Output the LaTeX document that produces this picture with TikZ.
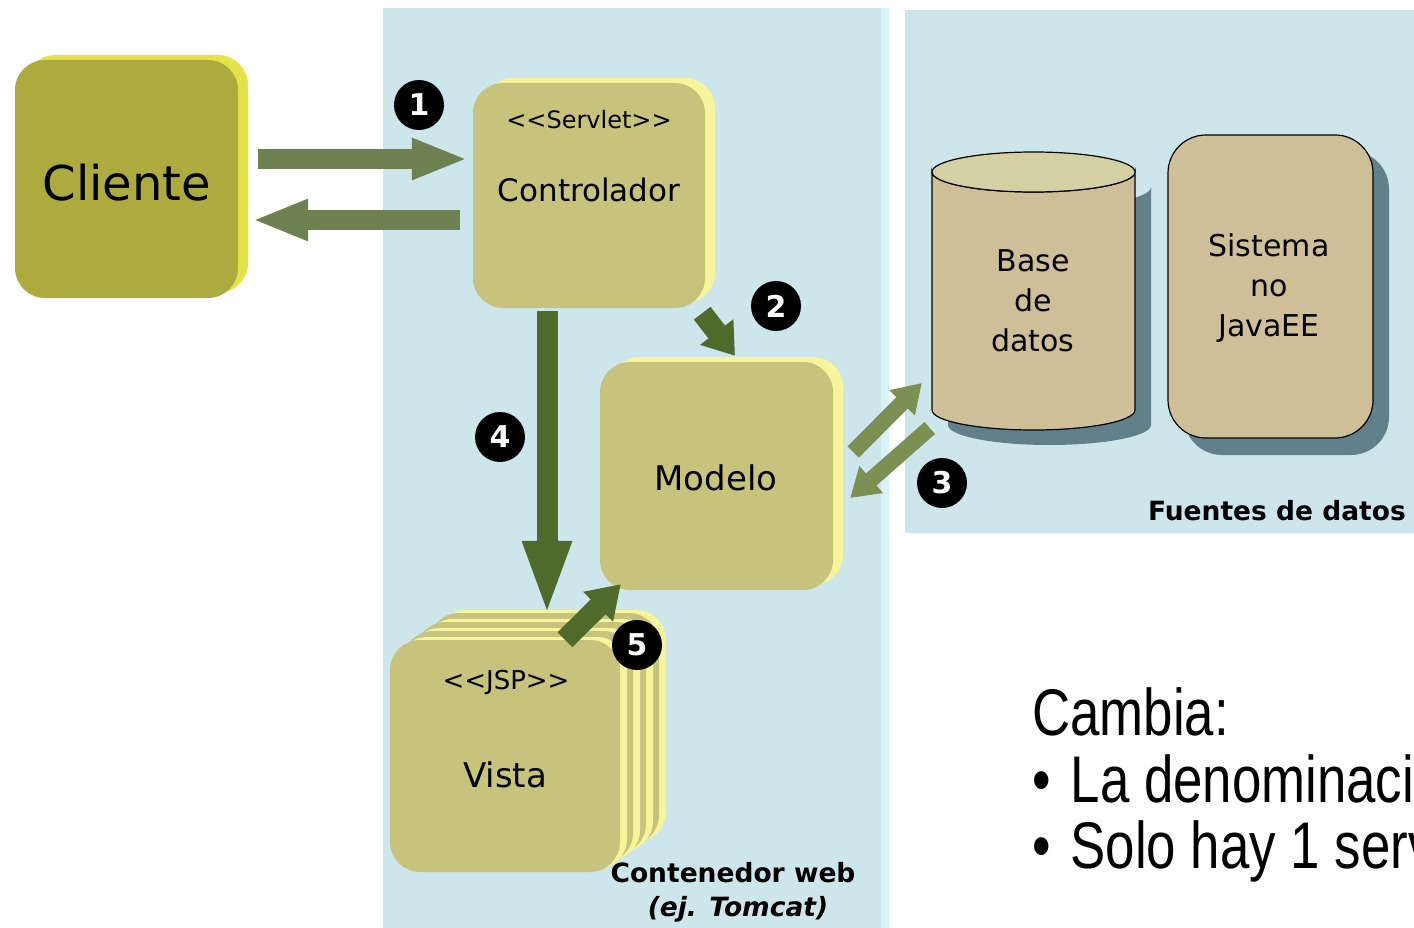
\documentclass[tikz,border=0pt]{standalone}
\usepackage{fontspec}
\setmainfont{DejaVu Sans}
\newfontfamily\narrowfont[FakeStretch=0.8]{Liberation Sans}
\usetikzlibrary{arrows.meta,calc}
\definecolor{panel}{HTML}{CDE6EB}
\definecolor{paneledge}{HTML}{D9F2F7}
\definecolor{olive}{HTML}{ADAB3E}
\definecolor{oliveedge}{HTML}{E4E248}
\definecolor{khaki}{HTML}{C7C37D}
\definecolor{khakiedge}{HTML}{F7F59C}
\definecolor{arrowA}{HTML}{6E8150}
\definecolor{arrowD}{HTML}{4F6A2B}
\definecolor{arrowC}{HTML}{7B9052}
\definecolor{tanc}{HTML}{CEBF98}
\definecolor{tantop}{HTML}{D4D0A4}
\definecolor{shadowc}{HTML}{61808A}
\tikzset{
  box/.style={rounded corners=30pt, inner sep=0pt},
  lbl/.style={inner sep=0pt, text=black},
  num/.style={circle, fill=black, minimum size=50pt, inner sep=0pt, text=white, font=\fontsize{30}{30}\selectfont\bfseries},
  arrowone/.style={draw=arrowA, line width=20pt, -{Triangle[length=56pt,width=38pt]}},
  arrowdark/.style={draw=arrowD, line width=21pt},
  arrowthree/.style={draw=arrowC, line width=16pt, -{Triangle[length=28pt,width=34pt]}},
}
\begin{document}
\begin{tikzpicture}[x=1pt,y=-1pt]
\useasboundingbox (0,0) rectangle (1414,928);
\clip (0,0) rectangle (1414,928);
% panels
\fill[panel] (383,8) rectangle (889,928);
\fill[paneledge] (881,8) rectangle (889,928);
\fill[panel] (905,10) rectangle (1414,533);

% Cliente
\fill[oliveedge, rounded corners=30pt] (25,55) rectangle (248,293);
\node[box, fill=olive, minimum width=223pt, minimum height=238pt] (cliente) at (126.5,179) {};
\node[lbl, font=\fontsize{48}{48}\selectfont] (clientetxt) at (127,183) {Cliente};

% Controlador
\fill[khakiedge, rounded corners=30pt] (483,78) rectangle (715,303);
\node[box, fill=khaki, minimum width=232pt, minimum height=225pt] (ctrl) at (589,195.5) {};
\node[lbl, font=\fontsize{24}{24}\selectfont] (ctrlst) at (589,120) {<{}<Servlet>{}>};
\node[lbl, font=\fontsize{31}{31}\selectfont] (ctrltxt) at (589,190) {Controlador};

% Modelo
\fill[khakiedge, rounded corners=30pt] (610,357) rectangle (843,585);
\node[box, fill=khaki, minimum width=233pt, minimum height=228pt] (modelo) at (716.5,476) {};
\node[lbl, font=\fontsize{34}{34}\selectfont] (modelotxt) at (716,478) {Modelo};

% Vista (stack)
\foreach \k in {3,2,1} {
  \fill[khakiedge, rounded corners=30pt] ($(390,640)+(13*\k,-9*\k)+(7,-3)$) rectangle ($(620,872)+(13*\k,-9*\k)+(7,-3)$);
  \fill[khaki, rounded corners=30pt] ($(390,640)+(13*\k,-9*\k)$) rectangle ($(620,872)+(13*\k,-9*\k)$);
}
\fill[khakiedge, rounded corners=30pt] (397,637) rectangle (627,869);
\node[box, fill=khaki, minimum width=230pt, minimum height=232pt] (vista) at (505,756) {};
\node[lbl, font=\fontsize{26}{26}\selectfont] (vistast) at (506,682) {<{}<JSP>{}>};
\node[lbl, font=\fontsize{34}{34}\selectfont] (vistatxt) at (505,775) {Vista};

% Base de datos (cylinder)
\fill[shadowc] (948,187) -- (948,425) arc[start angle=180,end angle=360,x radius=101.5pt,y radius=20pt] -- (1151,187) arc[start angle=0,end angle=-180,x radius=101.5pt,y radius=20pt] -- cycle;
\filldraw[fill=tanc, draw=black, line width=1.2pt] (932,172) -- (932,410) arc[start angle=180,end angle=360,x radius=101.5pt,y radius=20pt] -- (1135,172) arc[start angle=0,end angle=-180,x radius=101.5pt,y radius=20pt] -- cycle;
\filldraw[fill=tantop, draw=black, line width=1.2pt] (1033.5,172) ellipse[x radius=101.5pt, y radius=20pt];
\node[inner sep=0pt, minimum width=203pt, minimum height=278pt] (bd) at (1033.5,291) {};
\node[lbl, font=\fontsize{30}{30}\selectfont, align=center] (bdtxt) at (1033,301) {Base\\[10pt]de\\[10pt]datos};

% Sistema no JavaEE
\fill[shadowc, rounded corners=38pt] (1184,151) rectangle (1389,455);
\node[box, rounded corners=38pt, fill=tanc, draw=black, line width=1.2pt, minimum width=205pt, minimum height=303pt] (sis) at (1270.5,286.5) {};
\node[lbl, font=\fontsize{30}{30}\selectfont, align=center] (sistxt) at (1269,288) {Sistema\\[10pt]no\\[10pt]JavaEE};

% panel labels
\node[lbl, font=\fontsize{26.5}{26.5}\selectfont\bfseries, anchor=east] (fuentes) at (1406,511) {Fuentes de datos};
\node[lbl, font=\fontsize{26.5}{26.5}\selectfont\bfseries] (cont) at (733,873) {Contenedor web};
\node[lbl, font=\fontsize{26.5}{26.5}\selectfont\bfseries\itshape] (tomcat) at (738,909) {(ej. Tomcat)};

% arrows
\draw[arrowone] ([shift={(20,-20)}]cliente.east) -- ([shift={(-5,-36.5)}]ctrl.west);
\draw[arrowone] ([shift={(-13,24.5)}]ctrl.west) -- ([shift={(14,41)}]cliente.east);
\draw[arrowdark, -{Triangle[length=30pt,width=40pt]}] ([shift={(-3,5)}]ctrl.south east) -- ([shift={(18.5,-6)}]modelo.north);
\draw[arrowdark, -{Triangle[length=76pt,width=44pt]}] ([shift={(-42,3)}]ctrl.south) -- ([shift={(42,-23)}]vista.north);
\draw[arrowdark, -{Triangle[length=32pt,width=40pt]}] ([shift={(60,0)}]vista.north) -- ([shift={(21,-6)}]modelo.south west);
\draw[arrowthree] ([shift={(20,-24)}]modelo.east) -- ([shift={(-10,92)}]bd.west);
\draw[arrowthree] ([shift={(-2,137)}]bd.west) -- ([shift={(17,22)}]modelo.east);

% numbers
\node[num] (n1) at (419,105) {1};
\node[num] (n2) at (776,306) {2};
\node[num] (n3) at (942,483) {3};
\node[num] (n4) at (500,437) {4};
\node[num] (n5) at (637,645) {5};

% notes
\node[lbl, anchor=base west, font=\fontsize{66}{66}\narrowfont] (c1) at (1032,735) {Cambia:};
\node[lbl, anchor=base west, font=\fontsize{66}{66}\narrowfont] (c2) at (1032,802) {\textbullet\hspace*{20pt}La denominaci};
\node[lbl, anchor=base west, font=\fontsize{66}{66}\narrowfont] (c3) at (1032,868) {\textbullet\hspace*{20pt}Solo hay 1 serv};
\end{tikzpicture}
\end{document}
